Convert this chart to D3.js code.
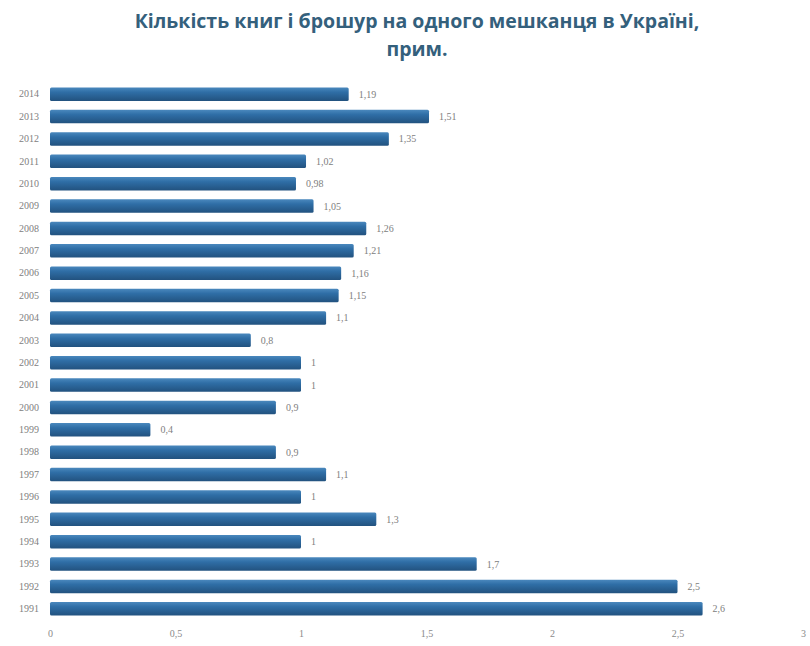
<!DOCTYPE html>
<html>
<head>
<meta charset="utf-8">
<script src="https://cdn.jsdelivr.net/npm/d3@7"></script>
<style>
  body { margin: 0; background: #fff; }
  svg { display: block; }
</style>
</head>
<body>
<svg id="chart" width="810" height="646"></svg>
<script>
  var years = ['2014','2013','2012','2011','2010','2009','2008','2007','2006','2005','2004','2003','2002','2001','2000','1999','1998','1997','1996','1995','1994','1993','1992','1991'];
  var values = [1.19,1.51,1.35,1.02,0.98,1.05,1.26,1.21,1.16,1.15,1.1,0.8,1,1,0.9,0.4,0.9,1.1,1,1.3,1,1.7,2.5,2.6];
  var ticks = [0, 0.5, 1, 1.5, 2, 2.5, 3];
  var title = ['Кількість книг і брошур на одного мешканця в Україні,', 'прим.'];

  var svg = d3.select('#chart');
  var fmt = function (v) { return String(v).replace('.', ','); };

  // bar gradient
  var grad = svg.append('defs').append('linearGradient')
    .attr('id', 'barGrad')
    .attr('x1', 0).attr('y1', 0).attr('x2', 0).attr('y2', 1);
  grad.append('stop').attr('offset', '0%').attr('stop-color', '#4a88bd');
  grad.append('stop').attr('offset', '35%').attr('stop-color', '#2f6ea6');
  grad.append('stop').attr('offset', '100%').attr('stop-color', '#22527f');

  var x = d3.scaleLinear().domain([0, 3]).range([50, 803]);
  var y = d3.scaleBand().domain(years).range([83, 620]).paddingInner(0.4).paddingOuter(0.2);

  // title
  svg.append('g').selectAll('text')
    .data(title)
    .enter()
    .append('text')
    .attr('x', 417)
    .attr('y', function (d, i) { return 28 + i * 28; })
    .attr('text-anchor', 'middle')
    .style('font-family', '"Open Sans", sans-serif')
    .style('font-weight', 'bold')
    .style('font-size', '19.5px')
    .style('fill', '#34607c')
    .text(function (d) { return d; });

  // bars
  svg.append('g').selectAll('rect')
    .data(values)
    .enter()
    .append('rect')
    .attr('x', x(0))
    .attr('y', function (d, i) { return y(years[i]); })
    .attr('width', function (d) { return x(d) - x(0); })
    .attr('height', y.bandwidth())
    .attr('rx', 1.5)
    .style('fill', 'url(#barGrad)');

  // value labels
  svg.append('g').selectAll('text')
    .data(values)
    .enter()
    .append('text')
    .attr('x', function (d) { return x(d) + 10; })
    .attr('y', function (d, i) { return y(years[i]) + y.bandwidth() / 2; })
    .attr('dy', '0.35em')
    .style('font-family', '"Liberation Serif", serif')
    .style('font-size', '10px')
    .style('fill', '#808080')
    .text(function (d) { return fmt(d); });

  // category axis
  var yAxis = svg.append('g')
    .attr('transform', 'translate(39,0)')
    .call(d3.axisLeft(y).tickSize(0).tickPadding(0));
  yAxis.select('.domain').remove();
  yAxis.selectAll('text')
    .style('font-family', '"Liberation Serif", serif')
    .style('font-size', '10px')
    .style('fill', '#808080');

  // value axis
  var xAxis = svg.append('g')
    .attr('transform', 'translate(0,630)')
    .call(d3.axisBottom(x).tickValues(ticks).tickFormat(fmt).tickSize(0).tickPadding(0));
  xAxis.select('.domain').remove();
  xAxis.selectAll('text')
    .style('font-family', '"Liberation Serif", serif')
    .style('font-size', '10px')
    .style('fill', '#8a8a8a');
</script>
</body>
</html>
